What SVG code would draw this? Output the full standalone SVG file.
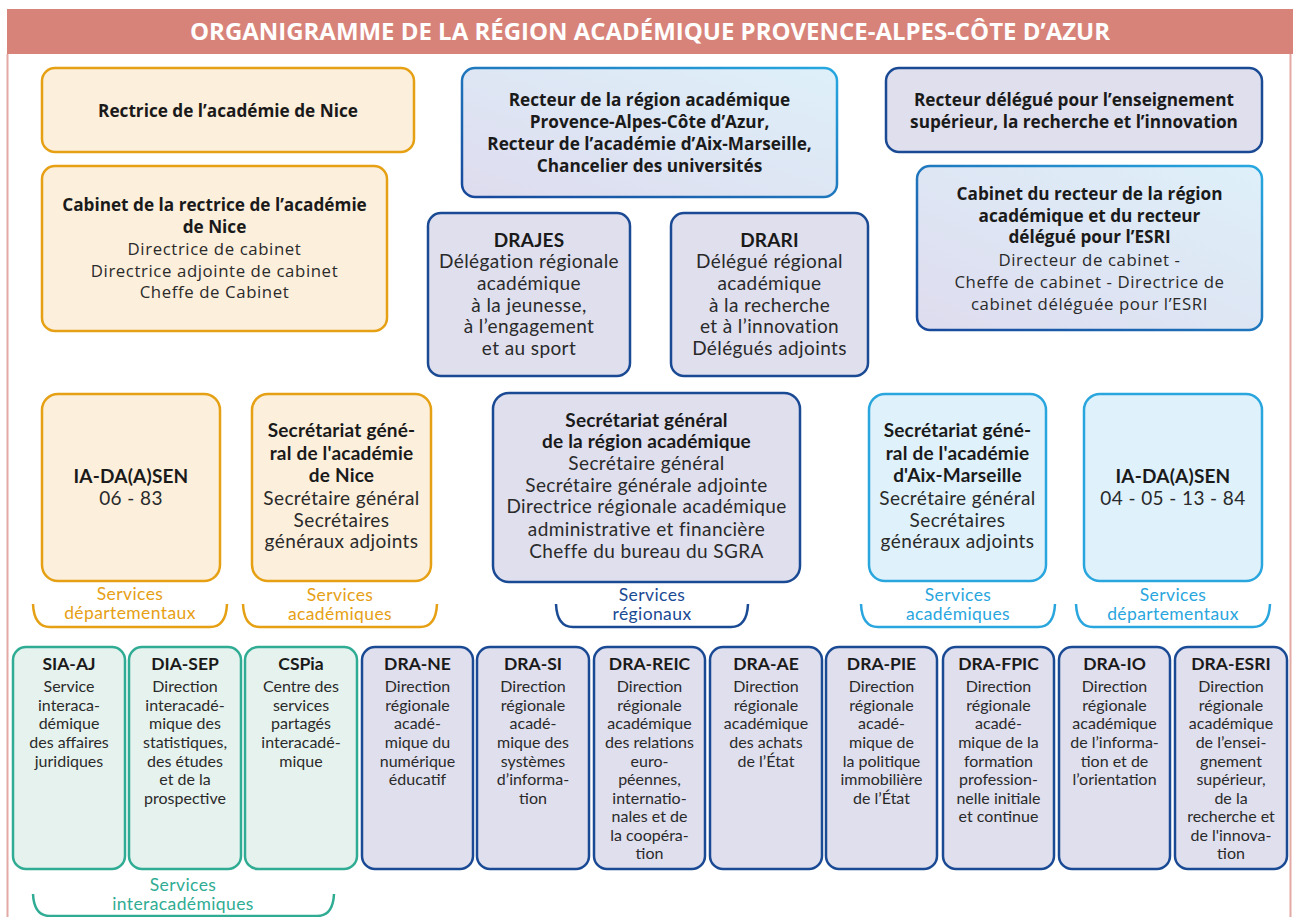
<svg xmlns="http://www.w3.org/2000/svg" width="1293" height="917" viewBox="0 0 1293 917">
<defs>
<linearGradient id="gs" x1="0" y1="1" x2="1" y2="0">
<stop offset="0" stop-color="#17479a"/><stop offset="1" stop-color="#27a8e0"/>
</linearGradient>
<linearGradient id="gf" x1="0" y1="1" x2="1" y2="0">
<stop offset="0" stop-color="#dedcee"/><stop offset="1" stop-color="#def0fa"/>
</linearGradient>
<style>
.or{fill:#fcefdc;stroke:#e6a014;stroke-width:2.5}
.lv{fill:#dfdfee;stroke:#1b4a94;stroke-width:2.5}
.lb{fill:#dff1fb;stroke:#2aa6de;stroke-width:2.5}
.gr{fill:#e6f2ee;stroke:#2fac93;stroke-width:2.5}
.gd{fill:url(#gf);stroke:url(#gs);stroke-width:2.5}
text{font-family:"Open Sans","Liberation Sans",sans-serif;fill:#1a1a1a;text-anchor:middle}
.b{font-weight:bold;font-size:17.2px}
.r{font-size:16.8px;letter-spacing:0.6px;fill:#2a2a2a}
.lb17{font-family:Lato,"Open Sans",sans-serif;font-weight:bold;font-size:19px;letter-spacing:0.2px}
.lr17{font-family:Lato,"Open Sans",sans-serif;font-size:19px;letter-spacing:0.4px;fill:#2a2a2a}
.sb{font-family:Lato,"Open Sans",sans-serif;font-weight:bold;font-size:17.5px}
.sr{font-family:Lato,"Open Sans",sans-serif;font-size:16px;fill:#2a2a2a}
.svc{font-family:Lato,"Open Sans",sans-serif;font-size:17.5px;letter-spacing:0.4px}
.bk{fill:none;stroke-width:2.5}
</style>
</defs>
<rect x="0" y="0" width="1293" height="917" fill="#ffffff"/>
<line x1="7.5" y1="54" x2="7.5" y2="917" stroke="#e3aaa5" stroke-width="2"/>
<line x1="1290.5" y1="54" x2="1290.5" y2="917" stroke="#e3aaa5" stroke-width="2"/>
<rect x="7" y="9" width="1286" height="45" fill="#d8837a"/>
<text x="650" y="40" textLength="920" lengthAdjust="spacingAndGlyphs" style="font-weight:bold;font-size:23px;fill:#ffffff">ORGANIGRAMME DE LA RÉGION ACADÉMIQUE PROVENCE-ALPES-CÔTE D’AZUR</text>

<g id="rectrice-nice"><rect class="or" x="42" y="68" width="372" height="84" rx="13"/>
<text class="b" x="228" y="117">Rectrice de l’académie de Nice</text></g>

<g id="cabinet-nice"><rect class="or" x="42" y="166" width="345" height="165" rx="13"/>
<text class="b" x="214.5" y="211">Cabinet de la rectrice de l’académie</text>
<text class="b" x="214.5" y="233">de Nice</text>
<text class="r" x="214.5" y="255">Directrice de cabinet</text>
<text class="r" x="214.5" y="276.5">Directrice adjointe de cabinet</text>
<text class="r" x="214.5" y="298">Cheffe de Cabinet</text></g>

<g id="recteur-region"><rect class="gd" x="462" y="68" width="375" height="129" rx="13"/>
<text class="b" x="649.5" y="106">Recteur de la région académique</text>
<text class="b" x="649.5" y="128">Provence-Alpes-Côte d’Azur,</text>
<text class="b" x="649.5" y="150">Recteur de l’académie d’Aix-Marseille,</text>
<text class="b" x="649.5" y="172">Chancelier des universités</text></g>

<g id="recteur-delegue"><rect class="lv" x="886" y="68" width="376" height="84" rx="13"/>
<text class="b" x="1074" y="106">Recteur délégué pour l’enseignement</text>
<text class="b" x="1074" y="128">supérieur, la recherche et l’innovation</text></g>

<g id="cabinet-recteur"><rect class="gd" x="917" y="166" width="345" height="164" rx="13"/>
<text class="b" x="1089.5" y="200">Cabinet du recteur de la région</text>
<text class="b" x="1089.5" y="222">académique et du recteur</text>
<text class="b" x="1089.5" y="243">délégué pour l’ESRI</text>
<text class="r" x="1089.5" y="265.5">Directeur de cabinet -</text>
<text class="r" x="1089.5" y="287.5">Cheffe de cabinet - Directrice de</text>
<text class="r" x="1089.5" y="309.5">cabinet déléguée pour l’ESRI</text></g>

<g id="drajes"><rect class="lv" x="428" y="213" width="202" height="163" rx="13"/>
<text class="lb17" x="529" y="247">DRAJES</text>
<text class="lr17" x="529" y="268">Délégation régionale</text>
<text class="lr17" x="529" y="290">académique</text>
<text class="lr17" x="529" y="312">à la jeunesse,</text>
<text class="lr17" x="529" y="333">à l’engagement</text>
<text class="lr17" x="529" y="355">et au sport</text></g>

<g id="drari"><rect class="lv" x="671" y="213" width="197" height="163" rx="13"/>
<text class="lb17" x="769.5" y="247">DRARI</text>
<text class="lr17" x="769.5" y="268">Délégué régional</text>
<text class="lr17" x="769.5" y="290">académique</text>
<text class="lr17" x="769.5" y="312">à la recherche</text>
<text class="lr17" x="769.5" y="333">et à l’innovation</text>
<text class="lr17" x="769.5" y="355">Délégués adjoints</text></g>

<g id="iadasen-nice"><rect class="or" x="42" y="394" width="178" height="187" rx="16"/>
<text class="lb17" x="131" y="483">IA-DA(A)SEN</text>
<text class="lr17" x="131" y="505">06 - 83</text></g>

<g id="sg-nice"><rect class="or" x="252" y="394" width="179" height="187" rx="16"/>
<text class="lb17" x="341.5" y="437">Secrétariat géné-</text>
<text class="lb17" x="341.5" y="460">ral de l'académie</text>
<text class="lb17" x="341.5" y="482">de Nice</text>
<text class="lr17" x="341.5" y="505">Secrétaire général</text>
<text class="lr17" x="341.5" y="527">Secrétaires</text>
<text class="lr17" x="341.5" y="548">généraux adjoints</text></g>

<g id="sg-region"><rect class="lv" x="493" y="393" width="307" height="189" rx="16"/>
<text class="lb17" x="646.5" y="427">Secrétariat général</text>
<text class="lb17" x="646.5" y="448">de la région académique</text>
<text class="lr17" x="646.5" y="470">Secrétaire général</text>
<text class="lr17" x="646.5" y="492">Secrétaire générale adjointe</text>
<text class="lr17" x="646.5" y="513">Directrice régionale académique</text>
<text class="lr17" x="646.5" y="536">administrative et financière</text>
<text class="lr17" x="646.5" y="558">Cheffe du bureau du SGRA</text></g>

<g id="sg-aix"><rect class="lb" x="869" y="394" width="177" height="187" rx="16"/>
<text class="lb17" x="957.5" y="437">Secrétariat géné-</text>
<text class="lb17" x="957.5" y="460">ral de l'académie</text>
<text class="lb17" x="957.5" y="482">d'Aix-Marseille</text>
<text class="lr17" x="957.5" y="505">Secrétaire général</text>
<text class="lr17" x="957.5" y="527">Secrétaires</text>
<text class="lr17" x="957.5" y="548">généraux adjoints</text></g>

<g id="iadasen-aix"><rect class="lb" x="1084" y="394" width="178" height="187" rx="16"/>
<text class="lb17" x="1173" y="483">IA-DA(A)SEN</text>
<text class="lr17" x="1173" y="505">04 - 05 - 13 - 84</text></g>

<g id="sia-aj"><rect class="gr" x="13" y="647" width="112" height="222" rx="13"/>
<text class="sb" x="69" y="670">SIA-AJ</text>
<text class="sr" x="69" y="692">Service</text>
<text class="sr" x="69" y="711">interaca-</text>
<text class="sr" x="69" y="729">démique</text>
<text class="sr" x="69" y="748">des affaires</text>
<text class="sr" x="69" y="767">juridiques</text></g>

<g id="dia-sep"><rect class="gr" x="129" y="647" width="112" height="222" rx="13"/>
<text class="sb" x="185" y="670">DIA-SEP</text>
<text class="sr" x="185" y="692">Direction</text>
<text class="sr" x="185" y="711">interacadé-</text>
<text class="sr" x="185" y="729">mique des</text>
<text class="sr" x="185" y="748">statistiques,</text>
<text class="sr" x="185" y="767">des études</text>
<text class="sr" x="185" y="785">et de la</text>
<text class="sr" x="185" y="804">prospective</text></g>

<g id="cspia"><rect class="gr" x="245" y="647" width="112" height="222" rx="13"/>
<text class="sb" x="301" y="670">CSPia</text>
<text class="sr" x="301" y="692">Centre des</text>
<text class="sr" x="301" y="711">services</text>
<text class="sr" x="301" y="729">partagés</text>
<text class="sr" x="301" y="748">interacadé-</text>
<text class="sr" x="301" y="767">mique</text></g>

<g id="dra-ne"><rect class="lv" x="362" y="647" width="111" height="222" rx="13"/>
<text class="sb" x="417.5" y="670">DRA-NE</text>
<text class="sr" x="417.5" y="692">Direction</text>
<text class="sr" x="417.5" y="711">régionale</text>
<text class="sr" x="417.5" y="729">acadé-</text>
<text class="sr" x="417.5" y="748">mique du</text>
<text class="sr" x="417.5" y="767">numérique</text>
<text class="sr" x="417.5" y="785">éducatif</text></g>

<g id="dra-si"><rect class="lv" x="477" y="647" width="112" height="222" rx="13"/>
<text class="sb" x="533" y="670">DRA-SI</text>
<text class="sr" x="533" y="692">Direction</text>
<text class="sr" x="533" y="711">régionale</text>
<text class="sr" x="533" y="729">acadé-</text>
<text class="sr" x="533" y="748">mique des</text>
<text class="sr" x="533" y="767">systèmes</text>
<text class="sr" x="533" y="785">d’informa-</text>
<text class="sr" x="533" y="804">tion</text></g>

<g id="dra-reic"><rect class="lv" x="594" y="647" width="111" height="222" rx="13"/>
<text class="sb" x="649.5" y="670">DRA-REIC</text>
<text class="sr" x="649.5" y="692">Direction</text>
<text class="sr" x="649.5" y="711">régionale</text>
<text class="sr" x="649.5" y="729">académique</text>
<text class="sr" x="649.5" y="748">des relations</text>
<text class="sr" x="649.5" y="767">euro-</text>
<text class="sr" x="649.5" y="785">péennes,</text>
<text class="sr" x="649.5" y="804">internatio-</text>
<text class="sr" x="649.5" y="822">nales et de</text>
<text class="sr" x="649.5" y="841">la coopéra-</text>
<text class="sr" x="649.5" y="859">tion</text></g>

<g id="dra-ae"><rect class="lv" x="710" y="647" width="112" height="222" rx="13"/>
<text class="sb" x="766" y="670">DRA-AE</text>
<text class="sr" x="766" y="692">Direction</text>
<text class="sr" x="766" y="711">régionale</text>
<text class="sr" x="766" y="729">académique</text>
<text class="sr" x="766" y="748">des achats</text>
<text class="sr" x="766" y="767">de l’État</text></g>

<g id="dra-pie"><rect class="lv" x="826" y="647" width="111" height="222" rx="13"/>
<text class="sb" x="881.5" y="670">DRA-PIE</text>
<text class="sr" x="881.5" y="692">Direction</text>
<text class="sr" x="881.5" y="711">régionale</text>
<text class="sr" x="881.5" y="729">acadé-</text>
<text class="sr" x="881.5" y="748">mique de</text>
<text class="sr" x="881.5" y="767">la politique</text>
<text class="sr" x="881.5" y="785">immobilière</text>
<text class="sr" x="881.5" y="804">de l’État</text></g>

<g id="dra-fpic"><rect class="lv" x="943" y="647" width="111" height="222" rx="13"/>
<text class="sb" x="998.5" y="670">DRA-FPIC</text>
<text class="sr" x="998.5" y="692">Direction</text>
<text class="sr" x="998.5" y="711">régionale</text>
<text class="sr" x="998.5" y="729">acadé-</text>
<text class="sr" x="998.5" y="748">mique de la</text>
<text class="sr" x="998.5" y="767">formation</text>
<text class="sr" x="998.5" y="785">profession-</text>
<text class="sr" x="998.5" y="804">nelle initiale</text>
<text class="sr" x="998.5" y="822">et continue</text></g>

<g id="dra-io"><rect class="lv" x="1059" y="647" width="111" height="222" rx="13"/>
<text class="sb" x="1114.5" y="670">DRA-IO</text>
<text class="sr" x="1114.5" y="692">Direction</text>
<text class="sr" x="1114.5" y="711">régionale</text>
<text class="sr" x="1114.5" y="729">académique</text>
<text class="sr" x="1114.5" y="748">de l’informa-</text>
<text class="sr" x="1114.5" y="767">tion et de</text>
<text class="sr" x="1114.5" y="785">l’orientation</text></g>

<g id="dra-esri"><rect class="lv" x="1175" y="647" width="112" height="222" rx="13"/>
<text class="sb" x="1231" y="670">DRA-ESRI</text>
<text class="sr" x="1231" y="692">Direction</text>
<text class="sr" x="1231" y="711">régionale</text>
<text class="sr" x="1231" y="729">académique</text>
<text class="sr" x="1231" y="748">de l’ensei-</text>
<text class="sr" x="1231" y="767">gnement</text>
<text class="sr" x="1231" y="785">supérieur,</text>
<text class="sr" x="1231" y="804">de la</text>
<text class="sr" x="1231" y="822">recherche et</text>
<text class="sr" x="1231" y="841">de l'innova-</text>
<text class="sr" x="1231" y="859">tion</text></g>

<g id="brackets">
<path class="bk" stroke="#e6a014" d="M33 604 Q34 627 50 627 L210 627 Q226 627 227 604"/>
<path class="bk" stroke="#e6a014" d="M243 604 Q244 627 260 627 L420 627 Q436 627 437 604"/>
<path class="bk" stroke="#1b4a94" d="M556 604 Q557 627 573 627 L731 627 Q747 627 748 604"/>
<path class="bk" stroke="#2aa6de" d="M861 604 Q862 627 878 627 L1038 627 Q1054 627 1055 604"/>
<path class="bk" stroke="#2aa6de" d="M1076 604 Q1077 627 1093 627 L1253 627 Q1269 627 1270 604"/>
<path class="bk" stroke="#2fac93" d="M33 894 Q34 916 50 916 L317 916 Q333 916 334 894"/>
</g>
<g id="bracket-labels">
<text class="svc" style="fill:#e6a014" x="130" y="600">Services</text>
<text class="svc" style="fill:#e6a014" x="130" y="619">départementaux</text>
<text class="svc" style="fill:#e6a014" x="340" y="601">Services</text>
<text class="svc" style="fill:#e6a014" x="340" y="620">académiques</text>
<text class="svc" style="fill:#1b4a94" x="652" y="601">Services</text>
<text class="svc" style="fill:#1b4a94" x="652" y="620">régionaux</text>
<text class="svc" style="fill:#2aa6de" x="958" y="601">Services</text>
<text class="svc" style="fill:#2aa6de" x="958" y="620">académiques</text>
<text class="svc" style="fill:#2aa6de" x="1173" y="601">Services</text>
<text class="svc" style="fill:#2aa6de" x="1173" y="620">départementaux</text>
<text class="svc" style="fill:#2fac93" x="183" y="891">Services</text>
<text class="svc" style="fill:#2fac93" x="183" y="910">interacadémiques</text>
</g>
</svg>
